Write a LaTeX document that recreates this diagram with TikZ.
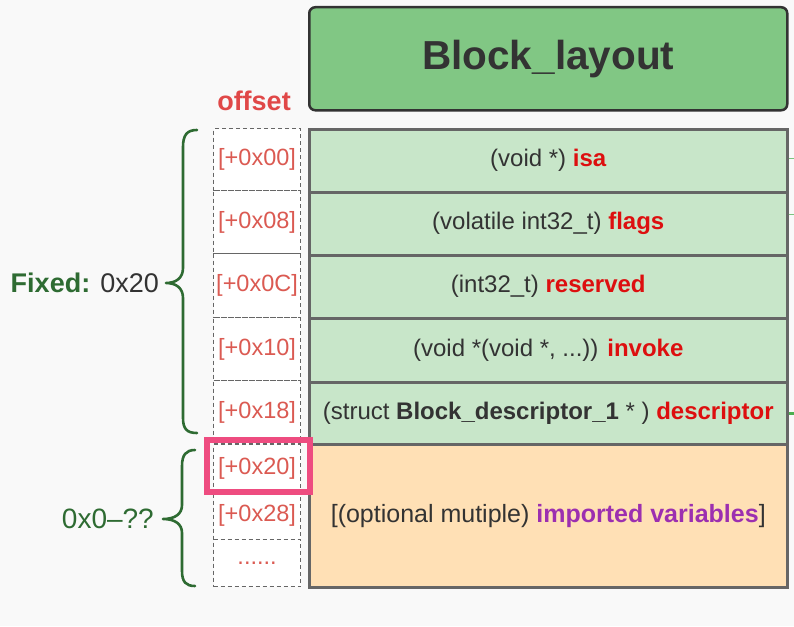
\documentclass[tikz,border=0pt]{standalone}
\usepackage{fontspec}
\setmainfont{Liberation Sans}
\definecolor{bgc}{HTML}{F9F9F9}
\definecolor{titlefill}{HTML}{81C784}
\definecolor{rowfill}{HTML}{C8E6C9}
\definecolor{orangefill}{HTML}{FFE0B5}
\definecolor{edgegray}{HTML}{666666}
\definecolor{darktext}{HTML}{333333}
\definecolor{keyred}{HTML}{DD0F0F}
\definecolor{offred}{HTML}{DB5A52}
\definecolor{hdrred}{HTML}{E04848}
\definecolor{bracegreen}{HTML}{2E6B32}
\definecolor{purp}{HTML}{9C2FB0}
\definecolor{pinkc}{HTML}{EE4C80}
\definecolor{stubgreen}{HTML}{7CC47F}
\definecolor{stubgreen2}{HTML}{4CAF50}
\tikzset{
  rowbox/.style={draw=edgegray, line width=2.5pt, fill=rowfill, anchor=north west,
    minimum width=478pt, minimum height=63pt, inner sep=0pt, text=darktext,
    font=\fontsize{24}{28}\selectfont},
  offbox/.style={draw=edgegray, dashed, dash pattern=on 4pt off 3pt, line width=1.1pt,
    fill=white, anchor=north west, minimum width=87pt, inner sep=0pt,
    text=offred, font=\fontsize{23.5}{27}\selectfont},
  bracestyle/.style={draw=bracegreen, line width=2.6pt, line cap=round, line join=round},
}
\begin{document}
\begin{tikzpicture}[x=1pt,y=-1pt]
\useasboundingbox (0,0) rectangle (794,626);
\fill[bgc] (0,0) rectangle (794,626);

% title
\node[draw=darktext, line width=2.5pt, fill=titlefill, rounded corners=6pt,
  anchor=north west, minimum width=478pt, minimum height=103pt, inner sep=0pt,
  text=darktext, font=\fontsize{40.5}{46}\selectfont\bfseries] (title) at (308,6) {Block\_layout};

% header
\node[text=hdrred, font=\fontsize{27}{31}\selectfont\bfseries] (hdr) at (254,101) {offset};

% rows
\node[rowbox, minimum height=63pt] (r1) at (308,128) {(void *) \textcolor{keyred}{\bfseries isa}};
\node[rowbox, minimum height=63pt] (r2) at (308,191) {(volatile int32\_t) \textcolor{keyred}{\bfseries flags}};
\node[rowbox, minimum height=63pt] (r3) at (308,254) {(int32\_t) \textcolor{keyred}{\bfseries reserved}};
\node[rowbox, minimum height=64pt] (r4) at (308,317) {(void *(void *, ...)) \textcolor{keyred}{\bfseries invoke}};
\node[rowbox, minimum height=62pt] (r5) at (308,381) {(struct \textbf{Block\_descriptor\_1} * ) \textcolor{keyred}{\bfseries descriptor}};
\node[rowbox, fill=orangefill, minimum height=143pt, font=\fontsize{25}{29}\selectfont] (r6) at (308,443) {[(optional mutiple) \textcolor{purp}{\bfseries imported variables}]};

% offsets
\node[offbox, minimum height=62pt] (o1) at (213,128) {[+0x00]};
\node[offbox, minimum height=63pt] (o2) at (213,190) {[+0x08]};
\node[offbox, minimum height=64pt] (o3) at (213,253) {[+0x0C]};
\node[offbox, minimum height=63pt] (o4) at (213,317) {[+0x10]};
\node[offbox, minimum height=63pt] (o5) at (213,380) {[+0x18]};
\node[offbox, minimum height=47pt] (o6) at (213,444) {[+0x20]};
\node[offbox, minimum height=48pt] (o7) at (213,491) {[+0x28]};
\node[offbox, minimum height=47pt] (o8) at (213,539) {......};

% highlight
\draw[pinkc, line width=6pt] (207,440) rectangle (310,492);

% right stubs
\coordinate (s1) at (794,158);
\coordinate (s2) at (794,214);
\coordinate (s3) at (794,413);
\draw[stubgreen, line width=1pt] (r1.east |- s1) -- (s1);
\draw[stubgreen, line width=1pt] (r2.east |- s2) -- (s2);
\draw[stubgreen2, line width=3pt] (r5.east |- s3) -- (s3);

% braces
\draw[bracestyle] (197,130) .. controls (187,130) and (183,135) .. (183,147)
  -- (183,268) .. controls (183,278) and (176,283) .. (166,283)
  .. controls (176,283) and (183,288) .. (183,298)
  -- (183,418) .. controls (183,429) and (187,433) .. (197,433);
\draw[bracestyle] (195,450) .. controls (186,450) and (182,455) .. (182,466)
  -- (182,505) .. controls (182,514) and (175,519) .. (163,519)
  .. controls (175,519) and (182,524) .. (182,533)
  -- (182,571) .. controls (182,582) and (186,586) .. (195,586);

\node[anchor=east, font=\fontsize{27}{31}\selectfont, inner sep=0pt] (fixed) at (159,283)
  {\textcolor{bracegreen}{\bfseries Fixed:} \textcolor{darktext}{0x20}};
\node[anchor=east, font=\fontsize{28}{32}\selectfont, text=bracegreen, inner sep=0pt] (var) at (154,519)
  {0x0–??};
\end{tikzpicture}
\end{document}
